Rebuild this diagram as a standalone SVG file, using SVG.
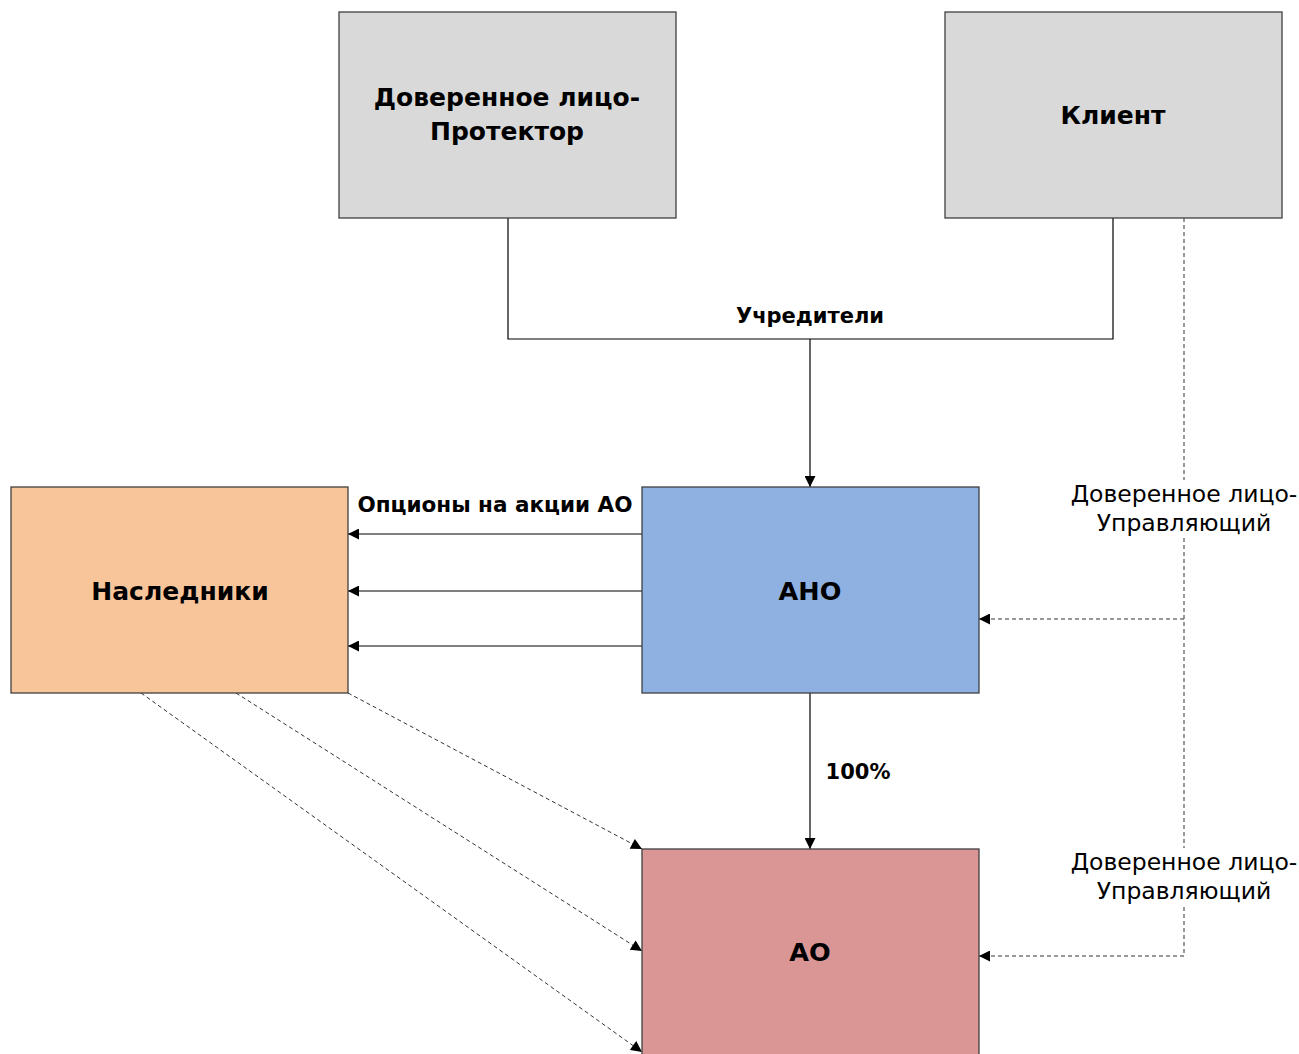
<svg xmlns="http://www.w3.org/2000/svg" width="1299" height="1054" viewBox="0 0 1299 1054">
<defs>
<style>
.box{stroke:#3f3f3f;stroke-width:1.3}
.t{font-family:"DejaVu Sans",Verdana,sans-serif;fill:#000;text-anchor:middle}
.b{font-weight:bold}
.ln{fill:none;stroke:#000;stroke-width:1.2}
.dl{fill:none;stroke:#333;stroke-width:1;stroke-dasharray:4,3}
</style>
<marker id="ah" viewBox="0 0 10 10" refX="10" refY="5" markerWidth="12" markerHeight="11" markerUnits="userSpaceOnUse" orient="auto">
<path d="M0,0 L10,5 L0,10 z" fill="#000"/>
</marker>
</defs>
<rect width="1299" height="1054" fill="#fff"/>
<g id="connectors">
<polyline class="ln" points="508,218 508,339 1113,339 1113,218"/>
<line class="ln" x1="810" y1="339" x2="810" y2="487" marker-end="url(#ah)"/>
<line class="ln" x1="642" y1="534" x2="348" y2="534" marker-end="url(#ah)"/>
<line class="ln" x1="642" y1="591" x2="348" y2="591" marker-end="url(#ah)"/>
<line class="ln" x1="642" y1="646" x2="348" y2="646" marker-end="url(#ah)"/>
<line class="ln" x1="810" y1="693" x2="810" y2="849" marker-end="url(#ah)"/>
<line class="dl" x1="1184" y1="218" x2="1184" y2="480"/>
<line class="dl" x1="1184" y1="538" x2="1184" y2="848"/>
<line class="dl" x1="1184" y1="907" x2="1184" y2="956"/>
<line class="dl" x1="1184" y1="619" x2="979" y2="619" marker-end="url(#ah)"/>
<line class="dl" x1="1184" y1="956" x2="979" y2="956" marker-end="url(#ah)"/>
<line class="dl" x1="348" y1="693" x2="642" y2="849" marker-end="url(#ah)"/>
<line class="dl" x1="236" y1="693" x2="642" y2="951" marker-end="url(#ah)"/>
<line class="dl" x1="141" y1="693" x2="642" y2="1052" marker-end="url(#ah)"/>
<text class="t b" x="810" y="323" font-size="21">Учредители</text>
<text class="t b" x="495" y="512" font-size="21.5">Опционы на акции АО</text>
<text class="t b" x="858" y="779" font-size="21">100%</text>
<text class="t" x="1184" y="502" font-size="23.5">Доверенное лицо-</text>
<text class="t" x="1184" y="531" font-size="23.5">Управляющий</text>
<text class="t" x="1184" y="870" font-size="23.5">Доверенное лицо-</text>
<text class="t" x="1184" y="899" font-size="23.5">Управляющий</text>
</g>
<g id="protector">
<rect class="box" x="339" y="12" width="337" height="206" fill="#d9d9d9"/>
<text class="t b" x="507" y="106" font-size="25">Доверенное лицо-</text>
<text class="t b" x="507" y="140" font-size="25">Протектор</text>
</g>
<g id="client">
<rect class="box" x="945" y="12" width="337" height="206" fill="#d9d9d9"/>
<text class="t b" x="1113" y="124" font-size="25">Клиент</text>
</g>
<g id="heirs">
<rect class="box" x="11" y="487" width="337" height="206" fill="#f8c59b"/>
<text class="t b" x="180" y="600" font-size="25">Наследники</text>
</g>
<g id="ano">
<rect class="box" x="642" y="487" width="337" height="206" fill="#8eb1e2"/>
<text class="t b" x="810" y="600" font-size="25.5">АНО</text>
</g>
<g id="ao">
<rect class="box" x="642" y="849" width="337" height="210" fill="#d99694"/>
<text class="t b" x="810" y="961" font-size="25.5">АО</text>
</g>
</svg>
